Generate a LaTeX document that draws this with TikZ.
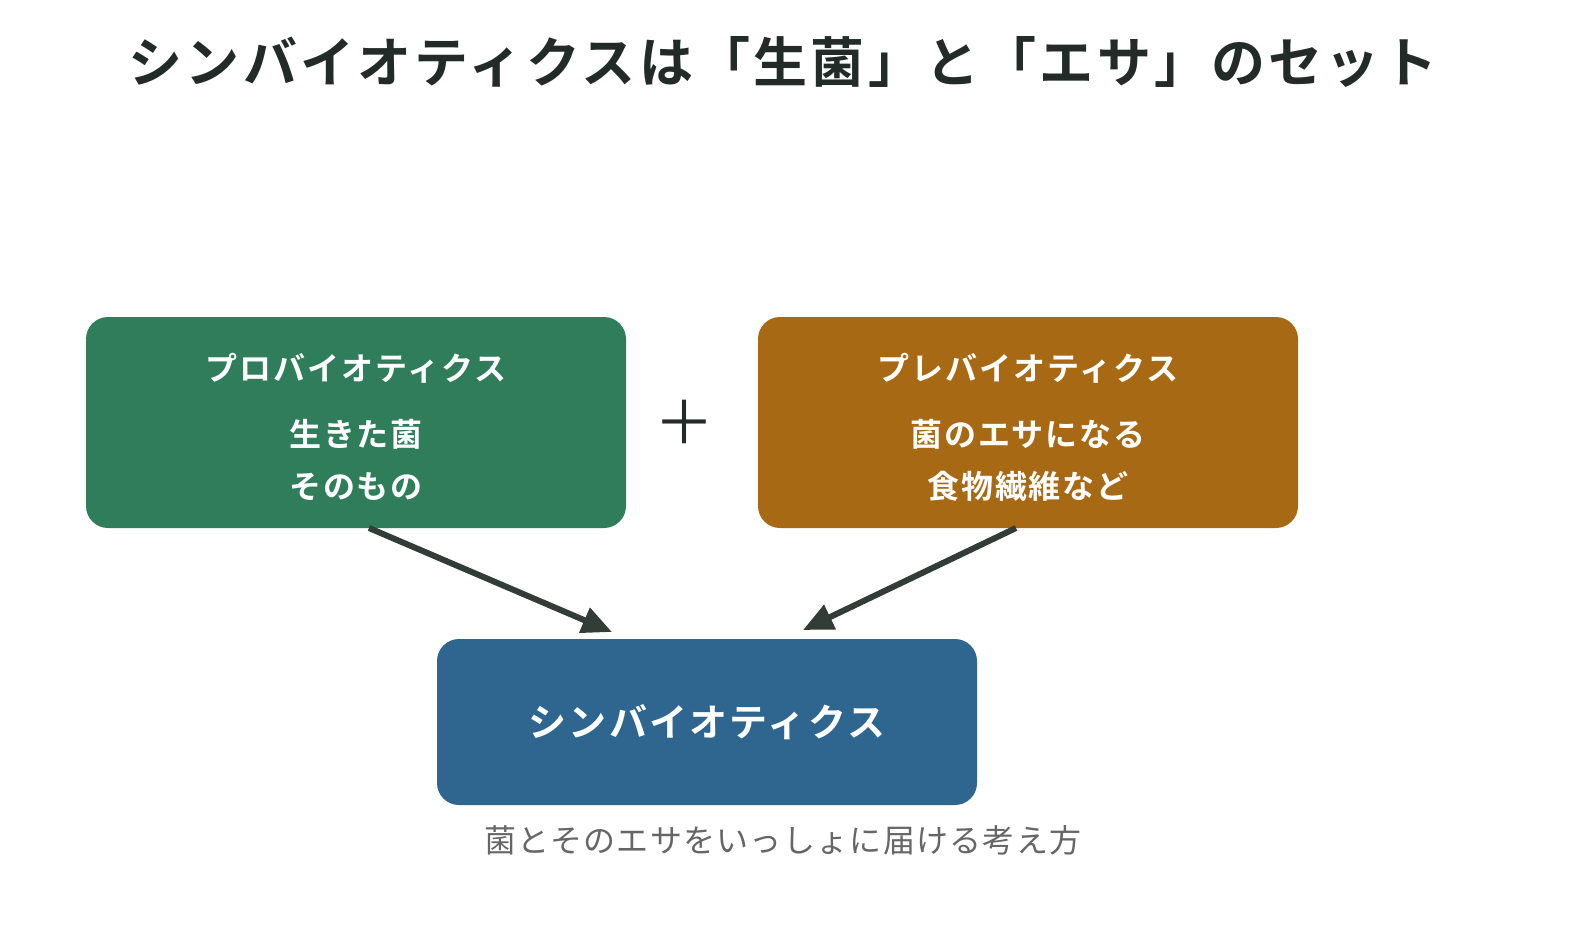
\documentclass[tikz,border=0pt]{standalone}
\usepackage{fontspec}
\setmainfont{Noto Sans CJK JP}
\newfontfamily\jpb[LetterSpace=6]{Noto Sans CJK JP Bold}
\newfontfamily\jpr[LetterSpace=4]{Noto Sans CJK JP}
\usetikzlibrary{arrows.meta}
\definecolor{cg}{HTML}{2F7D5B}
\definecolor{co}{HTML}{A86914}
\definecolor{cb}{HTML}{2F668F}
\definecolor{ca}{HTML}{333D38}
\definecolor{ct}{HTML}{222B27}
\definecolor{cc}{HTML}{666666}
\begin{document}
\begin{tikzpicture}[x=0.5pt,y=-0.5pt,
 box/.style={rounded corners=11pt,inner sep=0pt},
 lbl/.style={text=white,font=\jpb\fontsize{16}{20}\selectfont,align=center},
 arr/.style={draw=ca,line width=3pt,-{Triangle[length=15pt,width=13pt]}}]
\useasboundingbox[fill=white] (0,0) rectangle (1590,948);
\node[font=\jpb\fontsize{27}{32}\selectfont,text=ct] (title) at (783,62) {シンバイオティクスは「生菌」と「エサ」のセット};
\fill[cg,box] (86,317) rectangle (626,528);
\fill[co,box] (758,317) rectangle (1298,528);
\fill[cb,box] (437,639) rectangle (977,805);
\coordinate (g) at (356,422); \coordinate (o) at (1028,422); \coordinate (b) at (707,722);
\node[lbl] (gt) at (356,368) {プロバイオティクス};
\node[lbl] (gs) at (356,460) {生きた菌\\[6pt]そのもの};
\node[lbl] (ot) at (1028,368) {プレバイオティクス};
\node[lbl] (os) at (1028,460) {菌のエサになる\\[6pt]食物繊維など};
\node[lbl,font=\jpb\fontsize{19}{24}\selectfont] (bt) at (707,722) {シンバイオティクス};
\node[font=\fontsize{30}{30}\selectfont,text=ct] (plus) at (684,422) {＋};
\node[font=\jpr\fontsize{16}{20}\selectfont,text=cc] (cap) at (783,840) {菌とそのエサをいっしょに届ける考え方};
\coordinate (a1) at (369,528); \coordinate (a2) at (612,632);
\coordinate (b1) at (1016,528); \coordinate (b2) at (803,630);
\draw[arr] (a1) -- (a2);
\draw[arr] (b1) -- (b2);
\end{tikzpicture}
\end{document}
